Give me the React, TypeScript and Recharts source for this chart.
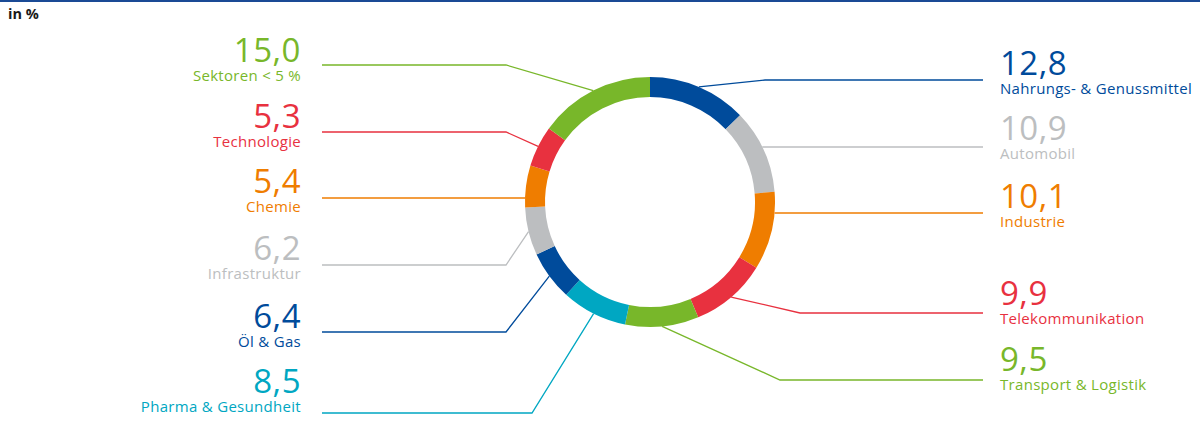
import React from 'react'
import { PieChart, Pie, Cell } from 'recharts'

document.body.style.margin = '0'

const SECTORS = ['Nahrungs- & Genussmittel','Automobil','Industrie','Telekommunikation','Transport & Logistik','Pharma & Gesundheit','Öl & Gas','Infrastruktur','Chemie','Technologie','Sektoren < 5 %']
const SHARES = [12.8,10.9,10.1,9.9,9.5,8.5,6.4,6.2,5.4,5.3,15.0]
const COLORS = ['#004b9b','#bcbec0','#ef7d00','#e8313f','#78b72a','#00a7c2','#004b9b','#bcbec0','#ef7d00','#e8313f','#78b72a']

// label layout (leader line row, number baseline, elbow x; null = straight line)
const LINE_Y = [80,147,213,313,380,413,332,265,198,132,65]
const NUM_Y = [75,140,208,305,371,393,328,260,193,128,62]
const ELBOW_X: (number|null)[] = [765,null,null,800,780,532,506,506,null,506,506]

const data = SECTORS.map((name,i)=>({name, value: SHARES[i]}))
const FONT = '"Open Sans", "Noto Sans", sans-serif'

const renderLabel = (p:any)=>{
  const { cx, cy, midAngle, outerRadius, index, value } = p
  const right = index < 5
  const y = LINE_Y[index]
  const ex = ELBOW_X[index]
  const endX = right ? 983 : 322
  let pts = ''
  if (ex == null) {
    const dy = y - cy
    const sx = cx + (right ? 1 : -1) * Math.sqrt(outerRadius*outerRadius - dy*dy)
    pts = `${sx},${y} ${endX},${y}`
  } else {
    const a = -midAngle * Math.PI / 180
    const sx = cx + outerRadius*Math.cos(a), sy = cy + outerRadius*Math.sin(a)
    pts = `${sx},${sy} ${ex},${y} ${endX},${y}`
  }
  const color = COLORS[index]
  const tx = right ? 1000 : 301
  const anchor = right ? 'start' : 'end'
  return (
    <g key={`lbl-${index}`}>
      <polyline points={pts} fill="none" stroke={color} strokeWidth={1.3}/>
      <text x={tx} y={NUM_Y[index]} textAnchor={anchor} fill={color} fontFamily={FONT} fontSize={33} letterSpacing={0.5}>
        {value.toFixed(1).replace('.', ',')}
      </text>
      <text x={tx} y={NUM_Y[index]+18.5} textAnchor={anchor} fill={color} fontFamily={FONT} fontSize={15} letterSpacing={0.3}>
        {SECTORS[index]}
      </text>
    </g>
  )
}

export default function App(){
  return (
    <div style={{position:'relative', width:1200, height:421, background:'#fff'}}>
      <div style={{position:'absolute', left:0, top:0, width:1200, height:1.5, background:'#1a4a95'}}/>
      <div style={{position:'absolute', left:8, top:4, fontFamily:FONT, fontWeight:700, fontSize:14.5, color:'#1a1a1a'}}>in %</div>
      <PieChart width={1200} height={421} margin={{top:0,right:0,bottom:0,left:0}}>
        <Pie data={data} dataKey="value" nameKey="name" cx={650} cy={202} innerRadius={105} outerRadius={125}
          startAngle={90} endAngle={-270} stroke="none" labelLine={false} label={renderLabel} isAnimationActive={false}>
          {data.map((_,i)=> <Cell key={i} fill={COLORS[i]} />)}
        </Pie>
      </PieChart>
    </div>
  )
}
